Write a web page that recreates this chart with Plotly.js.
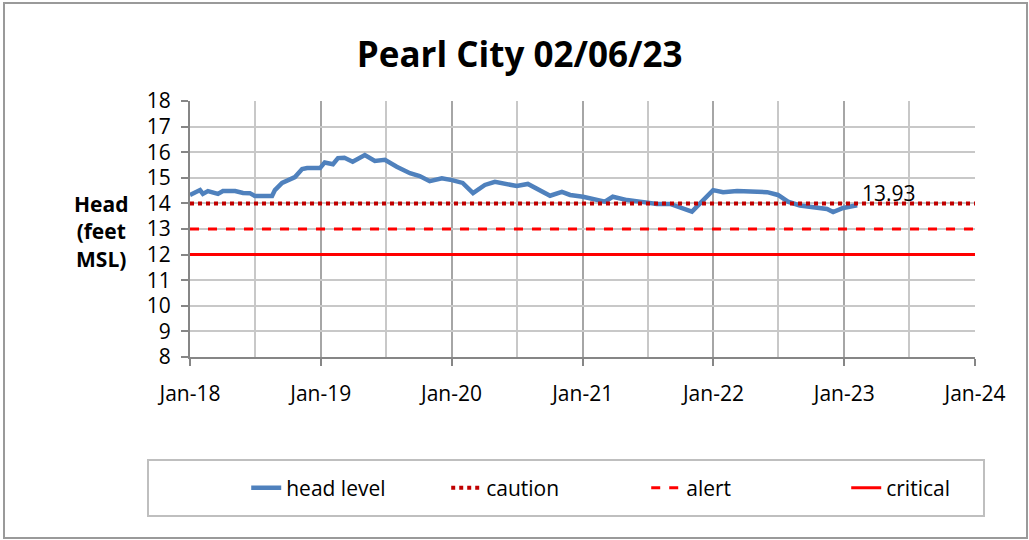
<!DOCTYPE html>
<html>
<head>
<meta charset="utf-8">
<script src="https://cdn.plot.ly/plotly-3.0.1.min.js"></script>
<style>html,body{margin:0;padding:0;background:#fff;}#chart{width:1029px;height:540px;}</style>
</head>
<body>
<div id="chart"></div>
<script>
const dates = ["2018-01-01","2018-01-29","2018-02-06","2018-02-20","2018-03-20","2018-04-03","2018-05-07","2018-05-29","2018-06-17","2018-07-01","2018-08-18","2018-08-26","2018-09-15","2018-10-21","2018-11-10","2018-11-24","2018-12-30","2019-01-12","2019-02-04","2019-02-18","2019-03-08","2019-03-31","2019-05-04","2019-06-01","2019-06-29","2019-08-01","2019-09-07","2019-10-04","2019-11-01","2019-12-05","2020-01-02","2020-02-01","2020-03-01","2020-04-03","2020-05-01","2020-06-04","2020-07-01","2020-08-01","2020-09-04","2020-10-02","2020-11-04","2020-11-27","2021-01-02","2021-03-04","2021-03-26","2021-05-05","2021-06-10","2021-07-27","2021-09-02","2021-11-02","2021-12-31","2022-01-28","2022-03-08","2022-05-31","2022-06-30","2022-07-28","2022-08-30","2022-10-17","2022-11-14","2022-12-01","2022-12-29","2023-02-06"];
const headLevel = [14.33,14.52,14.37,14.48,14.37,14.48,14.48,14.41,14.40,14.29,14.29,14.52,14.80,15.03,15.34,15.38,15.38,15.60,15.53,15.77,15.78,15.63,15.89,15.66,15.70,15.43,15.18,15.07,14.87,14.98,14.91,14.80,14.40,14.72,14.84,14.76,14.68,14.76,14.52,14.30,14.45,14.33,14.26,14.07,14.26,14.13,14.07,13.98,13.98,13.68,14.52,14.44,14.48,14.44,14.33,14.07,13.92,13.82,13.78,13.66,13.82,13.93];
const thresholdDates = ["2018-01-01","2024-01-01"];
const caution = [14,14];
const alertLvl = [13,13];
const critical = [12,12];
const lastLabel = "13.93";
const titleText = "Pearl City 02/06/23";
const yTitle = "Head<br>(feet<br>MSL)";

const fontFam = "'Open Sans', 'Noto Sans', sans-serif";

const traces = [
  {x: dates, y: headLevel, name: "head level", mode: "lines", line: {color: "#4f81bd", width: 4.5}},
  {x: thresholdDates, y: caution, name: "caution", mode: "lines", line: {color: "#c00000", width: 4, dash: "dot"}},
  {x: thresholdDates, y: alertLvl, name: "alert", mode: "lines", line: {color: "#ff0000", width: 3, dash: "dash"}},
  {x: thresholdDates, y: critical, name: "critical", mode: "lines", line: {color: "#ff0000", width: 3}}
];

// plot area: x 190..975 px, y 101..357 px
const px = v => (v - 190) / 785;
const py = v => (357 - v) / 256;

const layout = {
  width: 1029, height: 540,
  margin: {l: 190, r: 54, t: 101, b: 183},
  paper_bgcolor: "#fff", plot_bgcolor: "#fff",
  font: {family: fontFam, size: 21, color: "#000"},
  title: {text: "<b>" + titleText + "</b>", x: 0.505, xanchor: "center", y: 0.898, yanchor: "middle",
          font: {family: fontFam, size: 35, color: "#000"}},
  showlegend: true,
  legend: {orientation: "h", x: -0.001, xanchor: "left", y: py(488), yanchor: "middle",
           bgcolor: "rgba(0,0,0,0)", borderwidth: 0, font: {size: 21}, indentation: 57,
           entrywidth: 98, entrywidthmode: "pixels", itemwidth: 30},
  xaxis: {type: "date", range: ["2018-01-01","2024-01-01"], dtick: "M12", tick0: "2018-01-01",
          tickformat: "%b-%y", showgrid: true, gridcolor: "#a6a6a6", gridwidth: 2,
          showline: true, linecolor: "#868686", linewidth: 2, ticks: "outside", ticklen: 7, tickcolor: "#868686", tickwidth: 2,
          ticklabelstandoff: 10,
          minor: {dtick: "M6", showgrid: true, gridcolor: "#c8c8c8", gridwidth: 2},
          tickfont: {size: 21}, zeroline: false, fixedrange: true},
  yaxis: {range: [8, 18], dtick: 1, tick0: 8, showgrid: true, gridcolor: "#c8c8c8", gridwidth: 2,
          showline: true, linecolor: "#868686", linewidth: 2, ticks: "outside", ticklen: 7, tickcolor: "#868686", tickwidth: 2,
          ticklabelstandoff: 6,
          tickfont: {size: 21}, zeroline: false, fixedrange: true},
  annotations: [
    {x: dates[dates.length-1], y: headLevel[headLevel.length-1], xref: "x", yref: "y", text: lastLabel,
     showarrow: false, xanchor: "left", yanchor: "middle", xshift: 3, yshift: 12, font: {size: 21, color: "#000"}},
    {x: px(101), y: py(231), xref: "paper", yref: "paper", text: "<b>" + yTitle + "</b>", showarrow: false,
     xanchor: "center", yanchor: "middle", align: "center", font: {size: 21, color: "#000"}}
  ],
  shapes: [
    {type: "rect", xref: "paper", yref: "paper", x0: px(4), x1: px(1027), y0: py(538), y1: py(3),
     line: {color: "#9a9a9a", width: 2}, fillcolor: "rgba(0,0,0,0)", layer: "below"},
    {type: "rect", xref: "paper", yref: "paper", x0: px(148), x1: px(984), y0: py(516), y1: py(460),
     line: {color: "#bfbfbf", width: 2}, fillcolor: "rgba(0,0,0,0)", layer: "below"}
  ]
};

Plotly.newPlot("chart", traces, layout, {displayModeBar: false, staticPlot: true});
</script>
</body>
</html>
